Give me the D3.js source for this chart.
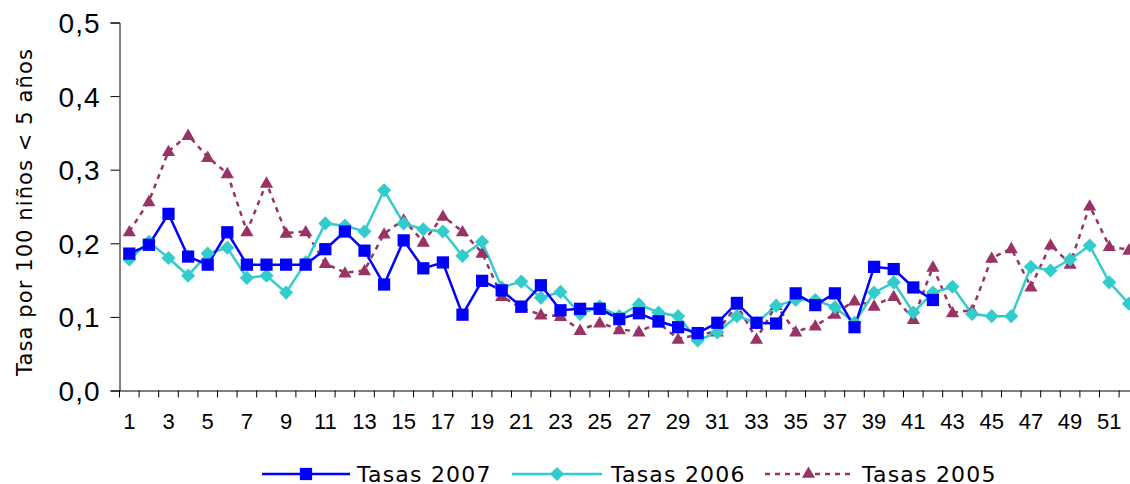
<!DOCTYPE html>
<html>
<head>
<meta charset="utf-8">
<script src="https://cdn.jsdelivr.net/npm/d3@7"></script>
<style>
  html, body { margin: 0; padding: 0; background: #fff; }
  svg { display: block; font-family: "DejaVu Sans", Verdana, sans-serif; }
</style>
</head>
<body>
<svg id="chart" width="1130" height="484"></svg>
<script>
const weeks = d3.range(1, 53);
const xTickLabels = d3.range(1, 53, 2);
const yTicks = [0, 0.1, 0.2, 0.3, 0.4, 0.5];

const tasas2007 = [0.186,0.198,0.240,0.182,0.171,0.215,0.171,0.171,0.171,0.171,
  0.192,0.216,0.190,0.144,0.204,0.166,0.174,0.103,0.149,0.136,
  0.114,0.143,0.109,0.111,0.111,0.097,0.105,0.094,0.086,0.078,
  0.092,0.119,0.092,0.091,0.132,0.116,0.132,0.086,0.168,0.165,
  0.140,0.123];
const tasas2006 = [0.178,0.202,0.180,0.156,0.186,0.194,0.153,0.156,0.133,0.174,
  0.227,0.224,0.216,0.272,0.227,0.219,0.216,0.183,0.202,0.140,
  0.148,0.126,0.134,0.104,0.114,0.101,0.117,0.106,0.101,0.068,
  0.079,0.101,0.092,0.115,0.123,0.123,0.113,0.092,0.133,0.147,
  0.106,0.133,0.141,0.104,0.101,0.101,0.168,0.163,0.178,0.197,
  0.147,0.118];
const tasas2005 = [0.216,0.257,0.325,0.347,0.317,0.295,0.216,0.282,0.214,0.216,
  0.173,0.160,0.163,0.213,0.232,0.202,0.237,0.216,0.187,0.128,
  0.112,0.103,0.101,0.082,0.092,0.083,0.080,0.092,0.070,0.076,
  0.080,0.116,0.070,0.116,0.080,0.088,0.104,0.122,0.115,0.128,
  0.097,0.168,0.106,0.109,0.180,0.193,0.141,0.198,0.172,0.251,
  0.196,0.191];

const seriesNames = ["Tasas 2007", "Tasas 2006", "Tasas 2005"];
const yTitle = "Tasa por 100 niños < 5 años";

const svg = d3.select("#chart");
const x0 = 119.5, step = 19.6;
const x = d3.scaleBand().domain(weeks).range([x0, x0 + step * weeks.length]).padding(0);
const y = d3.scaleLinear().domain([0, 0.5]).range([390.5, 22.5]);
const cx = w => x(w) + x.bandwidth() / 2;

const series = [
  { name: seriesNames[0], values: tasas2007, color: "#0000FF", dash: null, symbol: d3.symbolSquare, size: 150, rot: 0 },
  { name: seriesNames[1], values: tasas2006, color: "#33CCCC", dash: null, symbol: d3.symbolSquare, size: 100, rot: 45 },
  { name: seriesNames[2], values: tasas2005, color: "#993366", dash: "5,5", symbol: d3.symbolTriangle, size: 75, rot: 0 }
];

// axes
const yAxis = d3.axisLeft(y).tickValues(yTicks).tickSize(9).tickFormat(d => d3.format(".1f")(d).replace(".", ","));
const gy = svg.append("g").attr("transform", `translate(${x0},0)`).call(yAxis);
gy.select(".domain").attr("stroke", "#000").attr("stroke-width", 1);
gy.selectAll(".tick line").attr("stroke", "#000");
gy.selectAll(".tick text").attr("font-size", 28).attr("letter-spacing", 1).attr("fill", "#000")
  .attr("x", -19).attr("dy", "0.36em");

const xAxis = d3.axisBottom(x).tickValues([]).tickSizeOuter(0);
const gx = svg.append("g").attr("transform", `translate(0,${y(0)})`).call(xAxis);
gx.select(".domain").attr("stroke", "#000");
// boundary ticks
gx.selectAll(".bt").data(weeks).enter().append("line").attr("class", "bt")
  .attr("x1", d => x(d)).attr("x2", d => x(d)).attr("y1", 0).attr("y2", 7).attr("stroke", "#000");
gx.selectAll(".lbl").data(xTickLabels).enter().append("text").attr("class", "lbl")
  .attr("x", d => cx(d)).attr("y", 38.5).attr("text-anchor", "middle")
  .attr("font-size", 22).attr("fill", "#000").text(d => d);

// y title
svg.append("text").attr("transform", "translate(32,212) rotate(-90)")
  .attr("text-anchor", "middle").attr("font-size", 21).attr("letter-spacing", 1.1)
  .attr("fill", "#000").text(yTitle);

// lines & markers (draw 2005 first, then 2006, then 2007)
const order = [2, 1, 0];
order.forEach(i => {
  const s = series[i];
  const data = s.values.map((v, k) => ({ w: weeks[k], v }));
  const line = d3.line().x(d => cx(d.w)).y(d => y(d.v));
  svg.append("path").datum(data).attr("d", line).attr("fill", "none")
    .attr("stroke", s.color).attr("stroke-width", 2.5)
    .attr("stroke-dasharray", s.dash);
});
order.forEach(i => {
  const s = series[i];
  const data = s.values.map((v, k) => ({ w: weeks[k], v }));
  const sym = d3.symbol().type(s.symbol).size(s.size);
  svg.append("g").selectAll("path").data(data).enter().append("path")
    .attr("d", sym)
    .attr("transform", d => `translate(${cx(d.w)},${y(d.v) + (s.symbol === d3.symbolTriangle ? 1 : 0)}) rotate(${s.rot})`)
    .attr("fill", s.color);
});

// legend
const legendPos = [{ x1: 262, x2: 350, tx: 357 }, { x1: 512, x2: 602, tx: 611 }, { x1: 765, x2: 852, tx: 862 }];
const ly = 474;
series.forEach((s, i) => {
  const p = legendPos[i];
  const g = svg.append("g");
  g.append("line").attr("x1", p.x1).attr("x2", p.x2).attr("y1", ly).attr("y2", ly)
    .attr("stroke", s.color).attr("stroke-width", 2.5).attr("stroke-dasharray", s.dash);
  g.append("path").attr("d", d3.symbol().type(s.symbol).size(s.size)())
    .attr("transform", `translate(${(p.x1 + p.x2) / 2},${ly}) rotate(${s.rot})`).attr("fill", s.color);
  g.append("text").attr("x", p.tx).attr("y", ly + 8).attr("font-size", 22).attr("letter-spacing", 1.2)
    .attr("fill", "#000").text(s.name);
});
</script>
</body>
</html>
